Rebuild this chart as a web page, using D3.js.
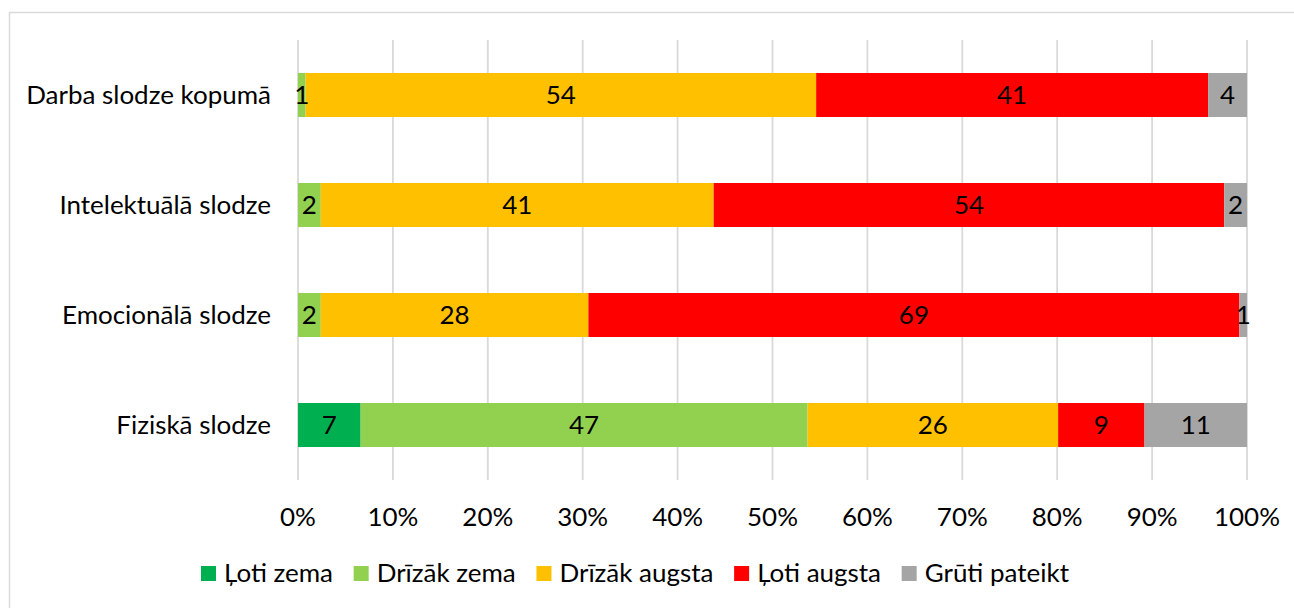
<!DOCTYPE html>
<html>
<head>
<meta charset="utf-8">
<script src="https://cdn.jsdelivr.net/npm/d3@7"></script>
<style>
  html, body { margin: 0; padding: 0; background: #fff; }
  svg { display: block; }
</style>
</head>
<body>
<svg id="chart" width="1294" height="608"></svg>
<script>
// ---- Data ----
const categories = ["Darba slodze kopumā", "Intelektuālā slodze", "Emocionālā slodze", "Fiziskā slodze"];
const seriesNames = ["Ļoti zema", "Drīzāk zema", "Drīzāk augsta", "Ļoti augsta", "Grūti pateikt"];
const seriesColors = ["#00B050", "#92D050", "#FFC000", "#FF0000", "#A5A5A5"];
const lotiZema     = [0,    0,    0,    6.6];
const drizakZema   = [0.8,  2.4,  2.4,  47.1];
const drizakAugsta = [53.8, 41.4, 28.2, 26.4];
const lotiAugsta   = [41.3, 53.8, 68.6, 9.1];
const grutiPateikt = [4.1,  2.4,  0.8,  10.8];
const tickValues = [0, 10, 20, 30, 40, 50, 60, 70, 80, 90, 100];

const seriesValues = [lotiZema, drizakZema, drizakAugsta, lotiAugsta, grutiPateikt];
const rows = categories.map((c, i) => {
  const r = { category: c };
  seriesNames.forEach((s, j) => r[s] = seriesValues[j][i]);
  return r;
});

// ---- Setup ----
const svg = d3.select("#chart");
const FONT = "Lato, 'Open Sans', sans-serif";

// fit font size so category label width matches reference (~245px)
const probe = svg.append("text").attr("font-family", FONT).attr("font-size", 100).text(categories[0]);
const w100 = probe.node().getComputedTextLength();
probe.remove();
const FS = Math.max(16, Math.min(30, 100 * 245 / w100));

svg.append("rect").attr("width", 1294).attr("height", 608).attr("fill", "#fff");
svg.append("rect")
  .attr("x", 9.5).attr("y", 12.5).attr("width", 1400).attr("height", 800)
  .attr("fill", "none").attr("stroke", "#D9D9D9").attr("stroke-width", 1.5);

const x = d3.scaleLinear().domain([0, 100]).range([298, 1247]);
const y = d3.scaleBand().domain(categories).range([40, 480]).paddingInner(0.6).paddingOuter(0.3);

// gridlines
svg.append("g").selectAll("line").data(tickValues).join("line")
  .attr("x1", d => x(d)).attr("x2", d => x(d))
  .attr("y1", 40).attr("y2", 480)
  .attr("stroke", "#D9D9D9").attr("stroke-width", 1.8);

// x tick labels
svg.append("g").selectAll("text").data(tickValues).join("text")
  .attr("x", d => x(d)).attr("y", 526)
  .attr("text-anchor", "middle")
  .attr("font-family", FONT).attr("font-size", FS).attr("fill", "#000")
  .text(d => d + "%");

// category labels
svg.append("g").selectAll("text").data(categories).join("text")
  .attr("x", 271).attr("y", d => y(d) + y.bandwidth() / 2 + FS * 0.35)
  .attr("text-anchor", "end")
  .attr("font-family", FONT).attr("font-size", FS).attr("fill", "#000")
  .text(d => d);

// stacked bars (normalized to 100%)
const stack = d3.stack().keys(seriesNames).offset(d3.stackOffsetExpand);
const stacked = stack(rows);

const layers = svg.append("g").selectAll("g").data(stacked).join("g")
  .attr("fill", (d, i) => seriesColors[i]);

layers.selectAll("rect").data(d => d).join("rect")
  .attr("x", d => x(d[0] * 100))
  .attr("width", d => Math.max(0, x(d[1] * 100) - x(d[0] * 100)))
  .attr("y", d => y(d.data.category))
  .attr("height", y.bandwidth());

// data labels
const labels = svg.append("g");
stacked.forEach((layer, i) => {
  layer.forEach(d => {
    const v = d.data[layer.key];
    if (v <= 0) return;
    labels.append("text")
      .attr("x", x((d[0] + d[1]) / 2 * 100))
      .attr("y", y(d.data.category) + y.bandwidth() / 2 + FS * 0.36)
      .attr("text-anchor", "middle")
      .attr("font-family", FONT).attr("font-size", FS).attr("fill", "#000")
      .text(Math.round(v));
  });
});

// legend
const legend = svg.append("g");
const items = legend.selectAll("g").data(seriesNames).join("g");
items.append("rect").attr("width", 15).attr("height", 15).attr("y", 566)
  .attr("fill", (d, i) => seriesColors[i]);
items.append("text").attr("x", 23).attr("y", 581.5)
  .attr("font-family", FONT).attr("font-size", FS).attr("fill", "#000")
  .text(d => d);
const widths = [];
items.each(function () {
  widths.push(23 + d3.select(this).select("text").node().getComputedTextLength());
});
const legendStart = 201, legendEnd = 1069;
const gap = (legendEnd - legendStart - d3.sum(widths)) / (widths.length - 1);
let cx = legendStart;
const positions = widths.map(w => { const p = cx; cx += w + gap; return p; });
items.attr("transform", (d, i) => `translate(${positions[i]},0)`);
</script>
</body>
</html>
